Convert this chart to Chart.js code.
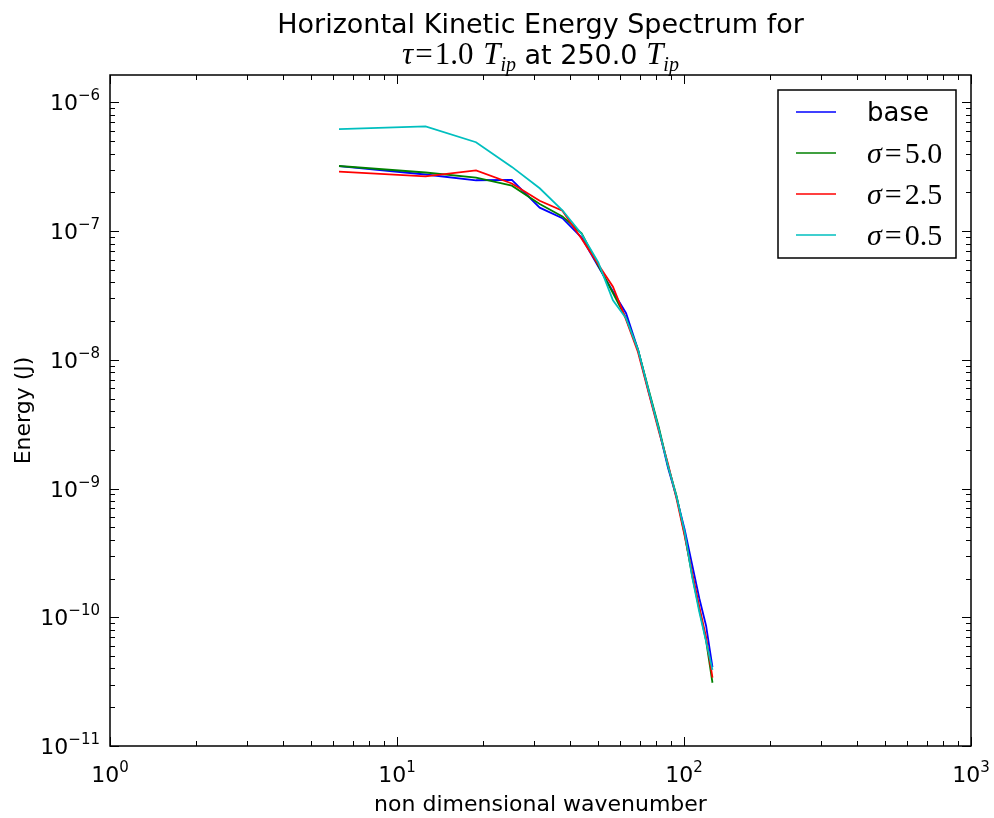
<!DOCTYPE html>
<html>
<head>
<meta charset="utf-8">
<script src="https://cdn.jsdelivr.net/npm/chart.js@4/dist/chart.umd.min.js"></script>
<style>
  html, body { margin: 0; padding: 0; background: #ffffff; }
  #wrap { width: 994px; height: 818px; }
</style>
</head>
<body>
<div id="wrap"><canvas id="spectrum" width="994" height="818"></canvas></div>
<script>
// ---- data ----
const wavenumbers = [6.28, 12.57, 18.85, 25.13, 31.42, 37.70, 43.98, 50.27, 56.55, 62.83,
                     69.12, 75.40, 81.68, 87.96, 94.25, 100.53, 106.81, 113.10, 119.38, 125.66];
const energyBase = [3.2e-7, 2.75e-7, 2.48e-7, 2.5e-7, 1.52e-7, 1.26e-7, 8.9e-8, 5.3e-8, 3.4e-8, 2.3e-8,
                    1.2e-8, 5.6e-9, 2.9e-9, 1.45e-9, 8.5e-10, 4.8e-10, 2.55e-10, 1.4e-10, 8.6e-11, 4.1e-11];
const energySigma50 = [3.2e-7, 2.85e-7, 2.6e-7, 2.25e-7, 1.62e-7, 1.3e-7, 9.6e-8, 5.4e-8, 3.3e-8, 2.1e-8,
                       1.2e-8, 5.8e-9, 3.0e-9, 1.5e-9, 8.7e-10, 4.4e-10, 2.1e-10, 1.15e-10, 6.6e-11, 3.1e-11];
const energySigma25 = [2.9e-7, 2.66e-7, 2.96e-7, 2.34e-7, 1.72e-7, 1.44e-7, 8.7e-8, 5.5e-8, 3.7e-8, 2.05e-8,
                       1.15e-8, 5.5e-9, 2.8e-9, 1.55e-9, 8.3e-10, 4.3e-10, 2.2e-10, 1.2e-10, 7e-11, 3.4e-11];
const energySigma05 = [6.2e-7, 6.5e-7, 4.9e-7, 3.15e-7, 2.15e-7, 1.45e-7, 9.5e-8, 5.7e-8, 2.9e-8, 2.1e-8,
                       1.2e-8, 5.7e-9, 2.9e-9, 1.5e-9, 8.6e-10, 4.6e-10, 2.05e-10, 1.1e-10, 6.5e-11, 3.9e-11];
const seriesLabels = ['base', 'σ=5.0', 'σ=2.5', 'σ=0.5'];
const seriesColors = ['#0000ff', '#008000', '#ff0000', '#00bfbf'];
const xTickExponents = [0, 1, 2, 3];
const yTickExponents = [-11, -10, -9, -8, -7, -6];

const SANS = '"DejaVu Sans", sans-serif';
const SERIF = '"Liberation Serif", "DejaVu Serif", serif';

function pairs(ys) {
  return wavenumbers.map((x, i) => ({ x, y: ys[i] }));
}

// draw a run of text pieces (with optional sub/superscript offsets) starting at x
function drawRun(ctx, pieces, x, y, align) {
  let total = 0;
  pieces.forEach(p => { ctx.font = p.font; total += ctx.measureText(p.text).width + (p.gap || 0); });
  let cx = align === 'center' ? x - total / 2 : (align === 'right' ? x - total : x);
  ctx.textAlign = 'left';
  pieces.forEach(p => {
    ctx.font = p.font;
    ctx.fillText(p.text, cx, y + (p.dy || 0));
    cx += ctx.measureText(p.text).width + (p.gap || 0);
  });
}

function powerLabel(exp) {
  return [
    { text: '10', font: '22px ' + SANS },
    { text: String(exp).replace('-', '\u2212'), font: '15px ' + SANS, dy: -10 }
  ];
}

// matplotlib-like frame, inward ticks, labels, title and legend
const mplDecor = {
  id: 'mplDecor',
  afterDraw(chart) {
    const { ctx, chartArea: a, scales } = chart;
    const xs = scales.x, ys = scales.y;
    ctx.save();
    ctx.strokeStyle = '#000';
    ctx.fillStyle = '#000';

    // frame
    ctx.lineWidth = 1.5;
    ctx.strokeRect(a.left, a.top, a.right - a.left, a.bottom - a.top);

    // ticks
    ctx.lineWidth = 1;
    ctx.beginPath();
    const xMin = xs.min, xMax = xs.max, yMin = ys.min, yMax = ys.max;
    for (let e = Math.floor(Math.log10(xMin)); e <= Math.ceil(Math.log10(xMax)); e++) {
      for (let m = 1; m <= 9; m++) {
        const v = m * Math.pow(10, e);
        if (v < xMin * 0.999 || v > xMax * 1.001) continue;
        const px = Math.round(xs.getPixelForValue(v)) + 0.5;
        const len = m === 1 ? 9 : 5;
        ctx.moveTo(px, a.bottom); ctx.lineTo(px, a.bottom - len);
        ctx.moveTo(px, a.top); ctx.lineTo(px, a.top + len);
      }
    }
    for (let e = Math.floor(Math.log10(yMin)); e <= Math.ceil(Math.log10(yMax)); e++) {
      for (let m = 1; m <= 9; m++) {
        const v = m * Math.pow(10, e);
        if (v < yMin * 0.999 || v > yMax * 1.001) continue;
        const py = Math.round(ys.getPixelForValue(v)) + 0.5;
        const len = m === 1 ? 9 : 5;
        ctx.moveTo(a.left, py); ctx.lineTo(a.left + len, py);
        ctx.moveTo(a.right, py); ctx.lineTo(a.right - len, py);
      }
    }
    ctx.stroke();

    // tick labels
    ctx.textBaseline = 'alphabetic';
    xTickExponents.forEach(e => {
      const px = xs.getPixelForValue(Math.pow(10, e));
      drawRun(ctx, powerLabel(e), px, a.bottom + 36, 'center');
    });
    yTickExponents.forEach(e => {
      const py = ys.getPixelForValue(Math.pow(10, e));
      drawRun(ctx, powerLabel(e), a.left - 10, py + 8, 'right');
    });

    // axis titles
    ctx.font = '22px ' + SANS;
    ctx.textAlign = 'center';
    ctx.fillText('non dimensional wavenumber', (a.left + a.right) / 2, 811);
    ctx.save();
    ctx.translate(30, (a.top + a.bottom) / 2);
    ctx.rotate(-Math.PI / 2);
    ctx.fillText('Energy (J)', 0, 0);
    ctx.restore();

    // title
    const cx = (a.left + a.right) / 2;
    ctx.font = '27px ' + SANS;
    ctx.textAlign = 'center';
    ctx.fillText('Horizontal Kinetic Energy Spectrum for', cx, 33);
    drawRun(ctx, [
      { text: 'τ', font: 'italic 31px ' + SERIF, gap: 2 },
      { text: '=', font: '31px ' + SERIF, gap: 2 },
      { text: '1.0 ', font: '31px ' + SERIF, gap: 2 },
      { text: 'T', font: 'italic 31px ' + SERIF },
      { text: 'ip', font: 'italic 20px ' + SERIF, dy: 7 },
      { text: ' at 250.0 ', font: '27px ' + SANS },
      { text: 'T', font: 'italic 31px ' + SERIF },
      { text: 'ip', font: 'italic 20px ' + SERIF, dy: 7 }
    ], cx, 64, 'center');

    // legend
    const lx = 778, ly = 90, lw = 178, lh = 168;
    ctx.fillStyle = '#fff';
    ctx.fillRect(lx, ly, lw, lh);
    ctx.lineWidth = 1.5;
    ctx.strokeStyle = '#000';
    ctx.strokeRect(lx, ly, lw, lh);
    const rowY = [112, 153, 194, 235];
    seriesLabels.forEach((lab, i) => {
      ctx.strokeStyle = seriesColors[i];
      ctx.lineWidth = 1.5;
      ctx.beginPath();
      ctx.moveTo(796, rowY[i]); ctx.lineTo(836, rowY[i]);
      ctx.stroke();
      ctx.fillStyle = '#000';
      if (i === 0) {
        drawRun(ctx, [{ text: 'base', font: '26px ' + SANS }], 867, rowY[i] + 9, 'left');
      } else {
        const num = lab.split('=')[1];
        drawRun(ctx, [
          { text: 'σ', font: 'italic 30px ' + SERIF, gap: 3 },
          { text: '=', font: '30px ' + SERIF, gap: 3 },
          { text: num, font: '30px ' + SERIF }
        ], 867, rowY[i] + 10, 'left');
      }
    });
    ctx.restore();
  }
};

const datasets = [energyBase, energySigma50, energySigma25, energySigma05].map((ys, i) => ({
  label: seriesLabels[i],
  data: pairs(ys),
  borderColor: seriesColors[i],
  backgroundColor: seriesColors[i],
  borderWidth: 1.8,
  pointRadius: 0,
  tension: 0,
  fill: false,
  order: 3 - i
}));

new Chart(document.getElementById('spectrum'), {
  type: 'line',
  data: { datasets },
  options: {
    responsive: false,
    animation: false,
    events: [],
    layout: { padding: { left: 110, right: 23, top: 75, bottom: 72 } },
    plugins: {
      legend: { display: false },
      title: { display: false },
      tooltip: { enabled: false }
    },
    scales: {
      x: {
        type: 'logarithmic',
        min: 1,
        max: 1000,
        grid: { display: false },
        border: { display: false },
        ticks: { display: false },
        afterFit: s => { s.height = 0; }
      },
      y: {
        type: 'logarithmic',
        min: 1e-11,
        max: 1.63e-6,
        grid: { display: false },
        border: { display: false },
        ticks: { display: false },
        afterFit: s => { s.width = 0; }
      }
    }
  },
  plugins: [mplDecor]
});
</script>
</body>
</html>
